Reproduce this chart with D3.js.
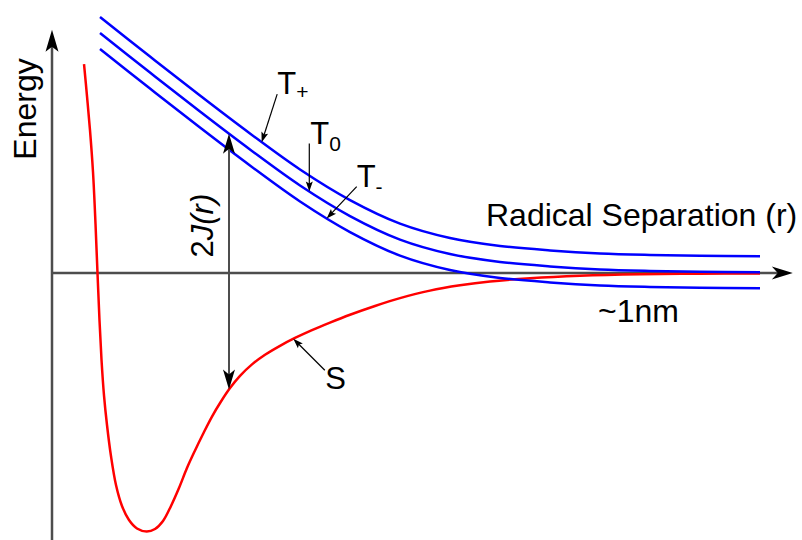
<!DOCTYPE html>
<html>
<head>
<meta charset="utf-8">
<script src="https://cdn.jsdelivr.net/npm/d3@7/dist/d3.min.js"></script>
<style>
  html, body { margin: 0; padding: 0; background: #fff; }
  svg { display: block; }
  text { font-family: "Liberation Sans", Arial, Helvetica, sans-serif; fill: #000; }
</style>
</head>
<body>
<svg id="chart" width="802" height="540"></svg>
<script>
// Radical pair energy levels versus radical separation r (Å); energies in arbitrary units.

// Triplet sublevels, sampled on a common r grid
const tripletR     = [0.823, 1.680, 2.537, 3.394, 4.252, 5.109, 5.966, 6.823, 7.681, 8.538, 9.395, 10.252, 11.109, 12.138];
const tripletPlus  = [16.0, 13.53, 11.09, 8.72, 6.47, 4.56, 3.09, 2.19, 1.69, 1.41, 1.22, 1.13, 1.08, 1.04];
const tripletZero  = [15.0, 12.53, 10.09, 7.72, 5.47, 3.56, 2.09, 1.19, 0.69, 0.41, 0.22, 0.13, 0.08, 0.04];
const tripletMinus = [14.0, 11.53, 9.09, 6.72, 4.47, 2.56, 1.09, 0.19, -0.31, -0.59, -0.78, -0.87, -0.92, -0.96];

// Singlet potential curve
const singletR = [
  0.549, 0.600, 0.651, 0.703, 0.746, 0.780, 0.814, 0.849, 0.891, 0.943,
  1.011, 1.097, 1.200, 1.320, 1.457, 1.624, 1.766, 1.903, 2.040, 2.177,
  2.314, 2.452, 2.589, 2.743, 2.897, 3.052, 3.223, 3.429, 3.652, 3.909,
  4.166, 4.457, 4.766, 5.109, 5.537, 5.966, 6.480, 6.995, 7.509, 8.195,
  9.052, 10.080, 11.109, 12.138
];
const singletEnergy = [
  13.06, 11.06, 8.94, 6.31, 3.06, 0, -2.94, -5.44, -7.63, -9.50,
  -11.44, -13.25, -14.56, -15.44, -15.97, -16.16, -16.00, -15.50, -14.56, -13.44,
  -12.19, -11.09, -10.06, -8.97, -8.03, -7.19, -6.43, -5.71, -5.11, -4.55,
  -4.06, -3.57, -3.10, -2.61, -2.06, -1.57, -1.10, -0.77, -0.53, -0.33,
  -0.175, -0.08, -0.044, -0.029
];

// Annotation positions (r in Å)
const exchangeR = 3.034;          // where 2J(r) is marked between T0 and S
const labelR = { "T+": 3.595, "T0": 4.411, "T-": 4.709, "S": 4.137 };
const axisMaxR = 12.7;
const axisMaxE = 15.2;

const svg = d3.select("#chart");
const W = 802, H = 540;

const x = d3.scaleLinear().domain([0, axisMaxR]).range([52, 792.8]);
const y = d3.scaleLinear().domain([-17, 15.5]).range([545, 25]);

const axisColor = "#4d4d4d";

function arrowHead(g, px, py, angleDeg, L, Wd, notch, fill) {
  g.append("path")
    .attr("d", `M0,0 L${-L},${-Wd} L${-L + notch},0 L${-L},${Wd} Z`)
    .attr("transform", `translate(${px},${py}) rotate(${angleDeg})`)
    .attr("fill", fill);
}

// ---- axes ----
const axes = svg.append("g");
axes.append("line")
  .attr("x1", x(0)).attr("x2", x(0))
  .attr("y1", H).attr("y2", y(axisMaxE) + 16)
  .attr("stroke", axisColor).attr("stroke-width", 2.5);
arrowHead(axes, x(0), y(axisMaxE), -90, 22, 6.5, 5, "#000");

axes.append("line")
  .attr("x1", x(0)).attr("x2", x(axisMaxR) - 14)
  .attr("y1", y(0)).attr("y2", y(0))
  .attr("stroke", axisColor).attr("stroke-width", 2.5);
arrowHead(axes, x(axisMaxR), y(0), 0, 21, 6.5, 6, "#000");

// ---- curves ----
const line = d3.line()
  .x(d => x(d[0]))
  .y(d => y(d[1]))
  .curve(d3.curveCatmullRom.alpha(0.5));

const curves = svg.append("g").attr("fill", "none").attr("stroke-width", 2.5);

const sPath = curves.append("path")
  .attr("d", line(d3.zip(singletR, singletEnergy)))
  .attr("stroke", "#ff0000");

const tPlusPath = curves.append("path")
  .attr("d", line(d3.zip(tripletR, tripletPlus)))
  .attr("stroke", "#0000ff");
const tZeroPath = curves.append("path")
  .attr("d", line(d3.zip(tripletR, tripletZero)))
  .attr("stroke", "#0000ff");
const tMinusPath = curves.append("path")
  .attr("d", line(d3.zip(tripletR, tripletMinus)))
  .attr("stroke", "#0000ff");

// y position of a drawn curve at a given screen x
function yOnPath(node, px) {
  let lo = 0, hi = node.getTotalLength();
  for (let i = 0; i < 40; i++) {
    const mid = (lo + hi) / 2;
    if (node.getPointAtLength(mid).x < px) lo = mid; else hi = mid;
  }
  return node.getPointAtLength((lo + hi) / 2).y;
}

// ---- 2J(r) double arrow ----
const ann = svg.append("g");
const jx = x(exchangeR);
const jTop = yOnPath(tZeroPath.node(), jx);
const jBot = yOnPath(sPath.node(), jx);
ann.append("line")
  .attr("x1", jx).attr("x2", jx)
  .attr("y1", jTop + 14).attr("y2", jBot - 14)
  .attr("stroke", axisColor).attr("stroke-width", 2);
arrowHead(ann, jx, jTop, -90, 20, 6, 5, "#000");
arrowHead(ann, jx, jBot, 90, 20, 6, 5, "#000");

const jLabel = ann.append("text")
  .attr("transform", `translate(${jx - 16},${(jTop + jBot) / 2 - 36}) rotate(-90)`)
  .attr("text-anchor", "middle")
  .attr("font-size", 31);
jLabel.append("tspan").text("2");
jLabel.append("tspan").attr("font-style", "italic").text("J(r)");

// ---- level labels with pointer arrows ----
const pointers = [
  { key: "T+", path: tPlusPath, dx: 15.5, dy: -48, lx: 15.5, ly: -48, main: "T", sub: "+", subDy: 5 },
  { key: "T0", path: tZeroPath, dx: 0, dy: -48, lx: 1, ly: -48, main: "T", sub: "0", subDy: 7 },
  { key: "T-", path: tMinusPath, dx: 30, dy: -32, lx: 30, ly: -32, main: "T", sub: "-", subDy: 7 },
  { key: "S", path: sPath, dx: 31.5, dy: 31.5, lx: 32, ly: 50, main: "S", sub: null }
];

pointers.forEach(p => {
  const tx = x(labelR[p.key]);
  const ty = yOnPath(p.path.node(), tx);
  const sx = tx + p.dx, sy = ty + p.dy;
  const ang = Math.atan2(ty - sy, tx - sx) * 180 / Math.PI;
  const len = Math.hypot(tx - sx, ty - sy);
  ann.append("line")
    .attr("x1", sx).attr("y1", sy)
    .attr("x2", tx - (tx - sx) / len * 6).attr("y2", ty - (ty - sy) / len * 6)
    .attr("stroke", "#000").attr("stroke-width", 1.2);
  arrowHead(ann, tx, ty, ang, 10, 3.5, 2, "#000");

  const t = ann.append("text")
    .attr("x", tx + p.lx).attr("y", ty + p.ly)
    .attr("font-size", 31);
  t.append("tspan").text(p.main);
  if (p.sub) {
    t.append("tspan").attr("font-size", 21).attr("dy", p.subDy).text(p.sub);
  }
});

// ---- axis titles ----
svg.append("text")
  .attr("transform", `translate(36,109) rotate(-90)`)
  .attr("text-anchor", "middle")
  .attr("font-size", 32)
  .text("Energy");

svg.append("text")
  .attr("x", 486).attr("y", 226)
  .attr("font-size", 32)
  .text("Radical Separation (r)");

svg.append("text")
  .attr("x", 598).attr("y", 322)
  .attr("font-size", 32)
  .text("~1nm");
</script>
</body>
</html>
